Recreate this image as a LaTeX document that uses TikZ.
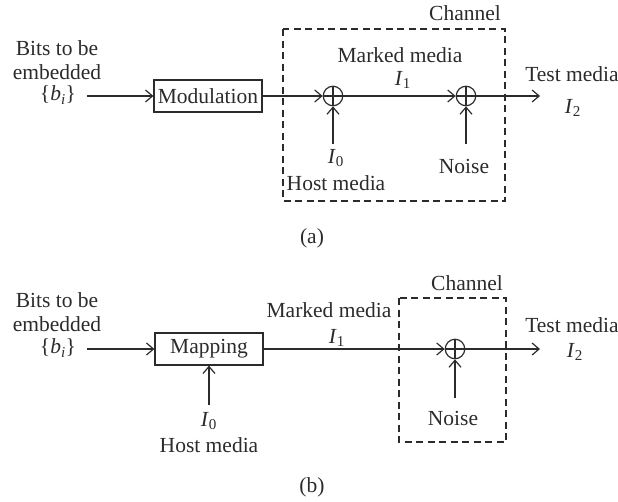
\documentclass[tikz,border=0pt]{standalone}
\usepackage{fontspec}
\setmainfont{Liberation Serif}
\usetikzlibrary{arrows.meta}
\definecolor{ink}{HTML}{2B2B2B}
\tikzset{
  lbl/.style={text=ink, font=\fontsize{21.5}{24}\selectfont, inner sep=0pt, align=center},
  blk/.style={draw=ink, line width=1.2pt, minimum width=108pt, minimum height=32pt, inner sep=0pt, text=ink, font=\fontsize{21.5}{24}\selectfont},
  sumnode/.style={draw=ink, line width=1.2pt, circle, minimum size=19.5pt, inner sep=0pt,
    path picture={\draw[ink, line width=1.2pt] (path picture bounding box.north) -- (path picture bounding box.south)
      (path picture bounding box.west) -- (path picture bounding box.east);}},
  arr/.style={draw=ink, line width=1.2pt, -{Straight Barb[length=7pt,width=12pt]}},
  chan/.style={draw=ink, line width=1.2pt, dash pattern=on 7pt off 4.5pt},
}
\newcommand{\Isub}[1]{\textit{I}\textsubscript{#1}}
\begin{document}
\begin{tikzpicture}[x=1pt,y=-1pt]
\useasboundingbox (0,0) rectangle (618,501);
% ---------- (a) ----------
\draw[chan] (283,29) rectangle (505,201);
\node[lbl] (chA) at (465,13) {Channel};
\node[lbl] (bitsA) at (57,60) {Bits to be\\embedded};
\node[lbl] (biA) at (58,95) {\{\textit{b}\textsubscript{\textit{i}}\}};
\node[blk] (mod) at (208,96) {Modulation};
\node[sumnode] (s1) at (333,96) {};
\node[sumnode] (s2) at (466,96) {};
\coordinate (endA) at (540,96);
\node[lbl] (mmA) at (400,55) {Marked media};
\node[lbl] (i1A) at (403,80) {\Isub{1}};
\node[lbl] (tmA) at (572,74) {Test media};
\node[lbl] (i2A) at (573,108) {\Isub{2}};
\node[lbl] (i0A) at (336,158) {\Isub{0}};
\node[lbl] (hmA) at (336,183) {Host media};
\node[lbl] (nzA) at (464,166) {Noise};
\node[lbl] (a) at (312,238) {(a)};
\draw[arr] ([xshift=11pt]biA.east |- mod.west) -- (mod.west);
\draw[arr] (mod.east) -- (s1.west);
\draw[arr] (s1.east) -- (s2.west);
\draw[arr] (s2.east) -- (endA);
\draw[arr] (333,144) -- (s1.south);
\draw[arr] (466,144) -- (s2.south);
% ---------- (b) ----------
\draw[chan] (399,298) rectangle (506,442);
\node[lbl] (chB) at (467,283) {Channel};
\node[lbl] (bitsB) at (57,312) {Bits to be\\embedded};
\node[lbl] (biB) at (58,348) {\{\textit{b}\textsubscript{\textit{i}}\}};
\node[blk] (map) at (209,349) {Mapping};
\node[sumnode] (s3) at (455,349) {};
\coordinate (endB) at (540,349);
\node[lbl] (mmB) at (329,310) {Marked media};
\node[lbl] (i1B) at (337,338) {\Isub{1}};
\node[lbl] (tmB) at (572,325) {Test media};
\node[lbl] (i2B) at (575,352) {\Isub{2}};
\node[lbl] (i0B) at (209,421) {\Isub{0}};
\node[lbl] (hmB) at (209,445) {Host media};
\node[lbl] (nzB) at (453,418) {Noise};
\node[lbl] (b) at (312,487) {(b)};
\draw[arr] ([xshift=11pt]biB.east |- map.west) -- (map.west);
\draw[arr] (map.east) -- (s3.west);
\draw[arr] (s3.east) -- (endB);
\draw[arr] (209,405) -- (map.south);
\draw[arr] (455,398) -- (s3.south);
\end{tikzpicture}
\end{document}
